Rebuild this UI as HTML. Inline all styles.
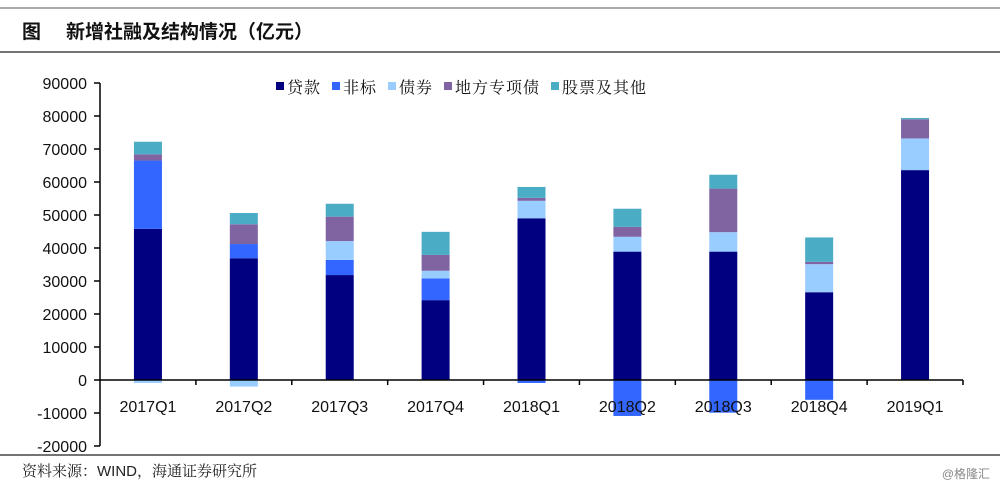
<!DOCTYPE html>
<html><head><meta charset="utf-8"><style>
body{margin:0;background:#fff;width:1000px;height:487px;overflow:hidden;font-family:"Liberation Sans","Noto Sans CJK SC",sans-serif}
svg{display:block}
</style></head><body>
<svg id="chart" width="1000" height="487" xmlns="http://www.w3.org/2000/svg">
<line x1="0" y1="8" x2="1000" y2="8" stroke="#555" stroke-width="1"/>
<text x="22" y="38" font-size="19" font-weight="bold" fill="#111" font-family="'Noto Sans CJK SC',sans-serif">图</text>
<text x="66" y="38" font-size="19" font-weight="bold" fill="#111" font-family="'Noto Sans CJK SC',sans-serif">新增社融及结构情况（亿元）</text>
<line x1="0" y1="52" x2="1000" y2="52" stroke="#222" stroke-width="1.2"/>
<line x1="0" y1="455" x2="1000" y2="455" stroke="#222" stroke-width="1.2"/>
<text x="22" y="476" font-size="15" fill="#222" font-family="'Liberation Sans','Noto Serif CJK SC',serif">资料来源：WIND，海通证券研究所</text>
<text x="990" y="478" font-size="12" fill="#888" text-anchor="end">@格隆汇</text>
<g id="plot"></g>
</svg>
<script>
const categories=["2017Q1","2017Q2","2017Q3","2017Q4","2018Q1","2018Q2","2018Q3","2018Q4","2019Q1"];
const loans=[45800,36900,31800,24200,49000,38900,38900,26600,63600];
const nonStandard=[20700,4300,4600,6600,-900,-10900,-9900,-6000,0];
const bonds=[-900,-2000,5700,2300,5300,4500,5900,8500,9600];
const specialBonds=[1900,6000,7400,4800,900,3000,13200,700,5800];
const equityOther=[3800,3400,3900,7000,3300,5500,4200,7400,400];
const yTicks=[90000,80000,70000,60000,50000,40000,30000,20000,10000,0,-10000,-20000];
const seriesNames=["贷款","非标","债券","地方专项债","股票及其他"];

const colors=["#000080","#3366ff","#99ccff","#8064a2","#4bacc6"];
const series=[loans,nonStandard,bonds,specialBonds,equityOther];
const NS="http://www.w3.org/2000/svg";
const plot=document.getElementById('plot');
const x0=100,x1=963,yMax=90000,yMin=-20000,yTop=83,yBot=446;
function y(v){return yTop+(yMax-v)/(yMax-yMin)*(yBot-yTop);}
const band=(x1-x0)/categories.length;
function xc(i){return x0+band*(i+0.5);}
function mk(tag,attrs){const e=document.createElementNS(NS,tag);for(const k in attrs)e.setAttribute(k,attrs[k]);plot.appendChild(e);return e;}
categories.forEach((c,i)=>{
  let pos=0,neg=0;
  series.forEach((s,k)=>{
    const v=s[i];if(!v)return;
    let a,b;
    if(v>0){a=pos;b=pos+v;pos=b;}else{a=neg;b=neg+v;neg=b;}
    const r=mk('rect',{x:xc(i)-14,y:Math.min(y(a),y(b)),width:28,height:Math.abs(y(a)-y(b)),fill:colors[k]});
    
    
  });
});
const ya=mk('line',{x1:x0,y1:yTop,x2:x0,y2:yBot,stroke:'#000','stroke-width':1.5});


yTicks.forEach(t=>{
  const l=mk('line',{x1:x0-6,y1:y(t),x2:x0,y2:y(t),stroke:'#000','stroke-width':1.5});
  
  
  const tx=mk('text',{x:x0-13,y:y(t)+6,'font-size':16,'text-anchor':'end',fill:'#111'});
  tx.textContent=t;
  
  
});
const xa=mk('line',{x1:x0,y1:y(0),x2:x1,y2:y(0),stroke:'#000','stroke-width':1.5});


for(let i=1;i<=categories.length;i++){
  const l=mk('line',{x1:x0+band*i,y1:y(0),x2:x0+band*i,y2:y(0)+5,stroke:'#000','stroke-width':1.5});
  
  
}
categories.forEach((c,i)=>{
  const t=mk('text',{x:xc(i),y:y(0)+32,'font-size':16,'text-anchor':'middle',fill:'#111'});
  t.textContent=c;
  
  
});
let lx=276;
seriesNames.forEach((n,k)=>{
  const r=mk('rect',{x:lx,y:82,width:8,height:8,fill:colors[k]});
  
  
  const t=mk('text',{x:lx+11,y:93,'font-size':16,fill:'#111','letter-spacing':1,'font-family':"'Noto Serif CJK SC',serif"});
  t.textContent=n;
  
  
  lx+=11+n.length*17+11;
});
</script>
</body></html>
